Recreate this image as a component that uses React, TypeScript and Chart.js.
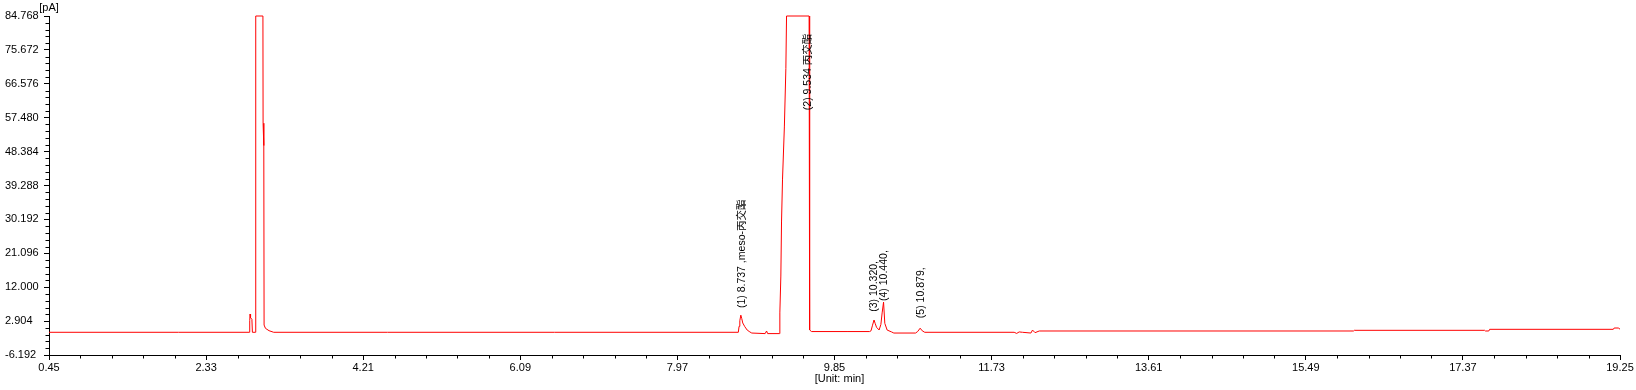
import React, { useEffect, useRef } from "react";
import { Chart, registerables } from "chart.js";

Chart.register(...registerables);

// ---- data ----
const retentionTimes = [
  0.45, 2.0, 2.846, 2.852, 2.856, 2.862, 2.878, 2.884, 2.92, 2.924,
  3.01, 3.012, 3.02, 3.021, 3.024, 3.04, 3.083, 3.139,
  4.5, 6.5, 8.699, 8.708, 8.717, 8.729, 8.74, 8.752, 8.777, 8.805, 8.837, 8.86,
  9.02, 9.037, 9.05, 9.19, 9.196, 9.208, 9.216, 9.228, 9.25, 9.268, 9.276,
  9.546, 9.549, 9.556, 9.575,
  10.0, 10.27, 10.287, 10.305, 10.323, 10.338, 10.353, 10.384,
  10.405, 10.42, 10.437, 10.452, 10.48, 10.533, 10.56,
  10.82, 10.845, 10.875, 10.9, 10.93,
  12.0, 12.03, 12.06, 12.1, 12.2, 12.22, 12.25, 12.3,
  16.06, 16.07, 17.63, 17.64, 17.68, 17.69, 19.17, 19.18, 19.23, 19.25,
];
const signalPA = [
  -0.1, -0.1, -0.1, 3.0, 4.8, 3.8, 3.4, -0.1, -0.1, 84.768,
  84.768, 56, 54, 50, 1.85, 0.97, 0.33, -0.1,
  -0.1, -0.1, -0.1, 1.5, 3.0, 4.5, 3.6, 2.4, 1.4, 0.5, 0.0, -0.3,
  -0.45, 0.25, -0.45, -0.45, 5.1, 15, 29.5, 41, 55, 70.7, 84.768,
  84.768, 40, 0.52, 0.1,
  0.1, 0.1, 0.3, 1.8, 3.2, 2.2, 1.24, 0.52,
  2.0, 5.1, 8.0, 2.3, 0.5, 0.0, -0.3,
  -0.3, 0.1, 1.0, 0.3, -0.1,
  -0.1, -0.4, 0.0, -0.1, -0.3, 0.5, -0.2, 0.25,
  0.25, 0.43, 0.43, 0.25, 0.25, 0.7, 0.7, 1.05, 1.05, 0.75,
];

const peakTimes = [8.737, 9.534, 10.32, 10.44, 10.879];
const peakNames = [
  "(1) 8.737 ,meso-丙交酯",
  "(2) 9.534 丙交酯",
  "(3) 10.320,",
  "(4) 10.440,",
  "(5) 10.879,",
];
const peakLabelAt = [6.4, 59.5, 5.4, 8.3, 3.7];

const xMin = 0.45;
const xMax = 19.25;
const xMajorStep = 1.88;
const yMin = -6.192;
const yMax = 84.768;
const yMajorStep = 9.096;
const minorPerMajor = 5;

const xUnitLabel = "[Unit: min]";
const yUnitLabel = "[pA]";

const TICK_FONT = "'Liberation Sans Narrow', 'Liberation Sans', Arial, sans-serif";
const LABEL_FONT = "'Liberation Sans', Arial, 'Noto Sans CJK SC', sans-serif";

function buildTicks(min: number, step: number, count: number) {
  const out: { value: number }[] = [];
  for (let i = 0; i <= count; i++) out.push({ value: min + (i * step) / minorPerMajor });
  return out;
}

export default function App() {
  const canvasRef = useRef<HTMLCanvasElement | null>(null);

  useEffect(() => {
    const canvas = canvasRef.current;
    if (!canvas) return;

    const points = retentionTimes.map((t, i) => ({ x: t, y: signalPA[i] }));

    const annotations = {
      id: "annotations",
      afterDatasetsDraw(chart: any) {
        const { ctx, scales, chartArea } = chart;
        const xs = scales.x;
        const ys = scales.y;
        ctx.save();
        ctx.fillStyle = "#000";
        ctx.font = `10.5px ${LABEL_FONT}`;
        ctx.textAlign = "left";
        ctx.textBaseline = "middle";
        peakNames.forEach((name, i) => {
          const px = xs.getPixelForValue(peakTimes[i]);
          const py = ys.getPixelForValue(peakLabelAt[i]);
          ctx.save();
          ctx.translate(px + 0.5, py);
          ctx.rotate(-Math.PI / 2);
          ctx.fillText(name, 0, 0);
          ctx.restore();
        });
        ctx.restore();

        // minor ticks
        ctx.save();
        ctx.strokeStyle = "#000";
        ctx.lineWidth = 1;
        ctx.beginPath();
        xs.ticks.forEach((t: any, i: number) => {
          if (i % minorPerMajor === 0) return;
          const px = Math.round(xs.getPixelForValue(t.value)) + 0.5;
          ctx.moveTo(px, chartArea.bottom);
          ctx.lineTo(px, chartArea.bottom + 3.5);
        });
        ys.ticks.forEach((t: any, i: number) => {
          if (i % minorPerMajor === 0) return;
          const py = Math.round(ys.getPixelForValue(t.value)) + 0.5;
          ctx.moveTo(chartArea.left - 3.5, py);
          ctx.lineTo(chartArea.left, py);
        });
        ctx.stroke();

        // y unit label
        ctx.fillStyle = "#000";
        ctx.font = `11px ${TICK_FONT}`;
        ctx.textAlign = "center";
        ctx.textBaseline = "middle";
        ctx.fillText(yUnitLabel, chartArea.left, 8);

        // x unit label
        ctx.textBaseline = "middle";
        ctx.fillText(xUnitLabel, (chartArea.left + chartArea.right) / 2 + 5, chart.height - 11);
        ctx.restore();
      },
    };

    const chart = new Chart(canvas, {
      type: "line",
      data: {
        datasets: [
          {
            data: points,
            borderColor: "#ff0000",
            borderWidth: 1,
            pointRadius: 0,
            tension: 0,
            fill: false,
            clip: 2,
          },
        ],
      },
      options: {
        animation: false,
        responsive: false,
        devicePixelRatio: 1,
        layout: { padding: { left: 5, right: 16, top: 16, bottom: 0 } },
        plugins: {
          legend: { display: false },
          tooltip: { enabled: false },
        },
        scales: {
          x: {
            type: "linear",
            min: xMin,
            max: xMax,
            afterBuildTicks: (scale: any) => {
              scale.ticks = buildTicks(xMin, xMajorStep, Math.round((xMax - xMin) / xMajorStep) * minorPerMajor);
            },
            afterFit: (scale: any) => {
              scale.height = 35;
            },
            ticks: {
              autoSkip: false,
              maxRotation: 0,
              minRotation: 0,
              padding: 1,
              color: "#000",
              font: { family: TICK_FONT, size: 11 },
              callback: (value: any, index: number) =>
                index % minorPerMajor === 0 ? Number(value).toFixed(2) : "",
            },
            grid: {
              display: true,
              drawOnChartArea: false,
              drawTicks: true,
              tickLength: 5,
              color: (ctx: any) => (ctx.index % minorPerMajor === 0 ? "#000" : "rgba(0,0,0,0)"),
            },
            border: { display: true, color: "#000", width: 1 },
          },
          y: {
            type: "linear",
            min: yMin,
            max: yMax,
            afterBuildTicks: (scale: any) => {
              scale.ticks = buildTicks(yMin, yMajorStep, Math.round((yMax - yMin) / yMajorStep) * minorPerMajor);
            },
            afterFit: (scale: any) => {
              scale.width = 44;
            },
            ticks: {
              autoSkip: false,
              crossAlign: "far",
              padding: 4,
              color: "#000",
              font: { family: TICK_FONT, size: 11 },
              callback: (value: any, index: number) =>
                index % minorPerMajor === 0 ? Number(value).toFixed(3) : "",
            },
            grid: {
              display: true,
              drawOnChartArea: false,
              drawTicks: true,
              tickLength: 5,
              color: (ctx: any) => (ctx.index % minorPerMajor === 0 ? "#000" : "rgba(0,0,0,0)"),
            },
            border: { display: true, color: "#000", width: 1 },
          },
        },
      } as any,
      plugins: [annotations],
    });

    return () => chart.destroy();
  }, []);

  return (
    <div
      style={{
        position: "fixed",
        left: 0,
        top: 0,
        width: 1636,
        height: 390,
        background: "#fff",
      }}
    >
      <canvas ref={canvasRef} width={1636} height={390} style={{ display: "block" }} />
    </div>
  );
}
